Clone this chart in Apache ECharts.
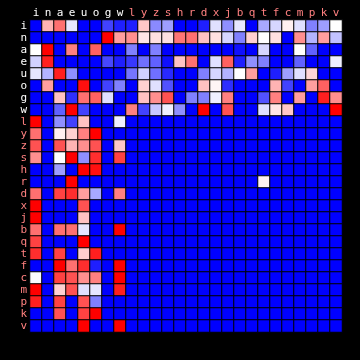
<!DOCTYPE html>
<html>
<head>
<meta charset="utf-8">
<script src="https://cdn.jsdelivr.net/npm/echarts@6/dist/echarts.min.js"></script>
<style>
html,body{margin:0;padding:0;background:#000;}
#chart{width:360px;height:360px;}
</style>
</head>
<body>
<div id="chart"></div>
<script>
// Letters (same order on both axes)
const letters = ['i','n','a','e','u','o','g','w','l','y','z','s','h','r','d','x','j','b','q','t','f','c','m','p','k','v'];
// How many leading letters are drawn in white (the rest in salmon)
const whiteCount = 8;
// Cell values (0 = blue, 0.5 = white, 1 = red), one row per letter
const rows = [
  [0,.65,.78,.45,0,0,.13,.06,.06,.61,.27,.31,0, 0,.06,.44,.28,.45,0,.33,.42,.53,.44,.25,.31,.5],
  [0,0,0,0,0,0,1,.69,.72,.55,.56,.56,.77, .78,.62,.56,.42,.25,.59,.5,.56,0,.72,.35,.69,.38],
  [.5,1,0,.75,0,.81,0,0,.25,0,.25,0,0, 0,0,0,0,.03,0,.42,0,0,.5,.19,0,0],
  [.41,.94,0,0,0,0,.14,.06,.11,.22,.19,.03,.62, .78,0,.44,.81,.06,.28,.25,0,0,.19,0,0,.47],
  [.45,.35,.94,.28,0,0,0,0,.23,.41,.22,.08,0, 0,.25,.42,.35,.5,.69,0,.06,.31,.44,.58,0,0],
  [0,.69,0,0,.97,0,.13,.25,0,.59,.44,.16,0, 0,.62,.52,.09,0,0,0,.65,.13,0,.69,.81,0],
  [0,0,.62,.09,.78,.81,.44,0,0,.62,.72,.84,0, .25,.25,.47,.75,0,0,.16,.75,0,.69,0,.94,.72],
  [0,0,.19,1,.13,0,0,0,.75,.13,.39,.47,.28, 0,1,0,.84,0,0,.44,.55,.61,0,0,0,1],
  [1,0,.28,.13,.62,0,0,.47,0,0,0,0,0, 0,0,0,0,0,0,0,0,0,0,0,0,0],
  [.78,0,.53,.59,.75,1,0,0,0,0,0,0,0, 0,0,0,0,0,0,0,0,0,0,0,0,0],
  [.84,0,.84,.65,.72,.84,0,.61,0,0,0,0,0, 0,0,0,0,0,0,0,0,0,0,0,0,0],
  [.72,0,.5,1,.28,.91,0,.87,0,0,0,0,0, 0,0,0,0,0,0,0,0,0,0,0,0,0],
  [0,0,.31,0,1,.97,0,0,0,0,0,0,0, 0,0,0,0,0,0,0,0,0,0,0,0,0],
  [0,0,0,1,0,0,0,0,0,0,0,0,0, 0,0,0,0,0,0,.53,0,0,0,0,0,0],
  [.78,0,.87,.91,.69,.33,0,.75,0,0,0,0,0, 0,0,0,0,0,0,0,0,0,0,0,0,0],
  [1,0,0,0,.84,0,0,0,0,0,0,0,0, 0,0,0,0,0,0,0,0,0,0,0,0,0],
  [1,0,0,0,.62,0,0,0,0,0,0,0,0, 0,0,0,0,0,0,0,0,0,0,0,0,0],
  [.78,0,.78,.78,.45,0,0,1,0,0,0,0,0, 0,0,0,0,0,0,0,0,0,0,0,0,0],
  [.87,0,0,0,1,0,0,0,0,0,0,0,0, 0,0,0,0,0,0,0,0,0,0,0,0,0],
  [.91,0,.87,0,.6,.94,0,0,0,0,0,0,0, 0,0,0,0,0,0,0,0,0,0,0,0,0],
  [0,0,1,.78,.91,.06,0,1,0,0,0,0,0, 0,0,0,0,0,0,0,0,0,0,0,0,0],
  [.49,0,.87,.84,.72,.75,0,1,0,0,0,0,0, 0,0,0,0,0,0,0,0,0,0,0,0,0],
  [1,0,.59,.84,.44,.45,0,.94,0,0,0,0,0, 0,0,0,0,0,0,0,0,0,0,0,0,0],
  [.94,0,.87,0,.84,.25,0,0,0,0,0,0,0, 0,0,0,0,0,0,0,0,0,0,0,0,0],
  [0,0,.84,0,.87,1,0,0,0,0,0,0,0, 0,0,0,0,0,0,0,0,0,0,0,0,0],
  [0,0,0,0,1,0,0,1,0,0,0,0,0, 0,0,0,0,0,0,0,0,0,0,0,0,0]
];

const data = [];
rows.forEach((r, yi) => r.forEach((v, xi) => data.push([xi, yi, v])));

const labelColor = (val) => letters.indexOf(val) < whiteCount ? '#ffffff' : '#ff8080';

const chart = echarts.init(document.getElementById('chart'), null, {renderer: 'canvas'});
chart.setOption({
  backgroundColor: '#000000',
  animation: false,
  grid: {left: 30, top: 20, width: 312, height: 312},
  xAxis: {
    type: 'category', data: letters, position: 'top',
    axisLine: {show: false}, axisTick: {show: false}, splitLine: {show: false},
    axisLabel: {
      interval: 0, margin: 1,
      fontFamily: 'DejaVu Sans Mono', fontSize: 11,
      color: labelColor
    }
  },
  yAxis: {
    type: 'category', data: letters, inverse: true,
    axisLine: {show: false}, axisTick: {show: false}, splitLine: {show: false},
    axisLabel: {
      interval: 0, margin: 3,
      fontFamily: 'DejaVu Sans Mono', fontSize: 11,
      color: labelColor
    }
  },
  visualMap: {
    show: false, min: 0, max: 1, dimension: 2,
    inRange: {color: ['#0000ff', '#ffffff', '#ff0000']}
  },
  series: [{
    type: 'heatmap', data: data,
    itemStyle: {borderColor: '#000000', borderWidth: 1},
    emphasis: {disabled: true}
  }]
});
</script>
</body>
</html>
